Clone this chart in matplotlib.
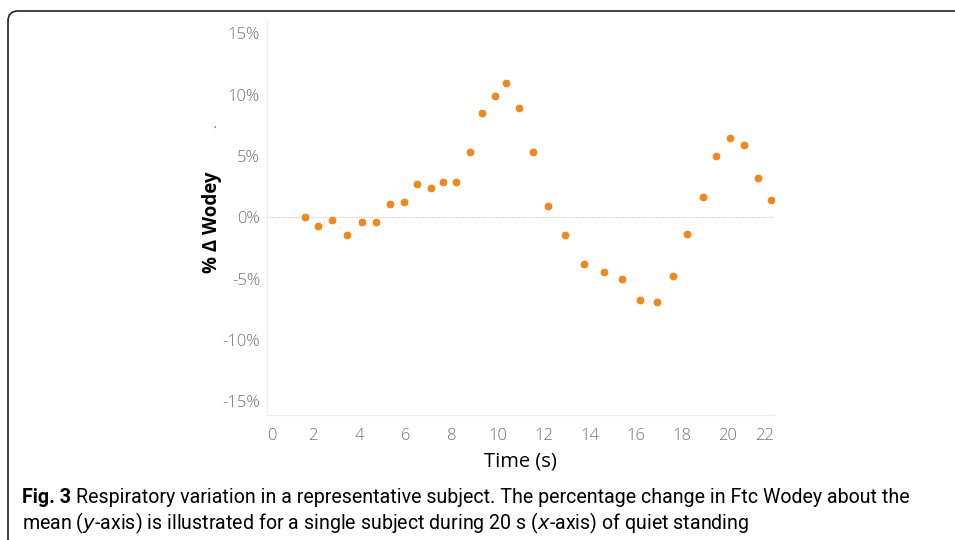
import numpy as np
import matplotlib
matplotlib.use('Agg')
import matplotlib.pyplot as plt
import matplotlib.ticker as ticker
from matplotlib.patches import PathPatch
from matplotlib.path import Path

DPI = 100
WIDTH_PX = 955
HEIGHT_PX = 540

# 数据：时间 (s) 与 % 变化
time_s = [1.63, 2.23, 2.83, 3.46, 4.11, 4.73, 5.34, 5.93, 6.51, 7.10, 7.64,
          8.21, 8.79, 9.33, 9.88, 10.36, 10.95, 11.55, 12.19, 12.94, 13.75,
          14.63, 15.42, 16.17, 16.92, 17.61, 18.24, 18.90, 19.48, 20.09,
          20.68, 21.29, 21.88]
pct_change = [0.0, -0.68, -0.25, -1.47, -0.41, -0.35, 1.12, 1.22, 2.69, 2.42,
              2.88, 2.88, 5.30, 8.51, 9.89, 10.95, 8.92, 5.30, 0.90, -1.47,
              -3.81, -4.49, -5.06, -6.74, -6.91, -4.79, -1.36, 1.63, 5.00,
              6.47, 5.90, 3.21, 1.39]

x_ticks = list(range(0, 23, 2))
y_ticks = [-15, -10, -5, 0, 5, 10, 15]

caption_bold = 'Fig. 3'
caption_line1 = ('Respiratory variation in a representative subject. The '
                 'percentage change in Ftc Wodey about the')
caption_line2 = ('mean ($\\it{y}$-axis) is illustrated for a single subject '
                 'during 20 s ($\\it{x}$-axis) of quiet standing')

ORANGE = '#F0891C'
TICK_GREY = '#727272'
FONT = 'Open Sans'

fig = plt.figure(figsize=(WIDTH_PX / DPI, HEIGHT_PX / DPI), dpi=DPI)

# ── 外框（圆角，只露出左、上两边）──
fx, ftop, r = 0.08, (HEIGHT_PX - 11) / DPI, 0.1
frame_path = Path([(fx, -0.2), (fx, ftop - r), (fx, ftop), (fx + r, ftop),
                   (12.0, ftop)],
                  [Path.MOVETO, Path.LINETO, Path.CURVE3, Path.CURVE3,
                   Path.LINETO])
fig.patches.append(PathPatch(frame_path, transform=fig.dpi_scale_trans,
                             fill=False, edgecolor='#222222', linewidth=1.2))

# ── 坐标轴 ──
L, R, T, B = 267, 774, 21, 415
ax = fig.add_axes([L / WIDTH_PX, 1 - B / HEIGHT_PX,
                   (R - L) / WIDTH_PX, (B - T) / HEIGHT_PX])
ax.set_xlim(0, 22)
ax.set_ylim(-16.1, 16.0)

ax.axhline(0, color='#cfcfcf', linewidth=0.8, linestyle=(0, (1, 1)), zorder=1)
ax.scatter(time_s, pct_change, s=38, color=ORANGE, edgecolor='white',
           linewidth=0.5, zorder=3)

for side in ('top', 'right'):
    ax.spines[side].set_visible(False)
for side in ('left', 'bottom'):
    ax.spines[side].set_color('#ececec')
    ax.spines[side].set_linewidth(0.8)

ax.set_xticks(x_ticks)
ax.set_yticks(y_ticks)
ax.yaxis.set_major_formatter(ticker.FuncFormatter(lambda v, p: f'{v:.0f}%'))
ax.tick_params(axis='both', length=0, colors=TICK_GREY, labelsize=12)
ax.tick_params(axis='x', pad=9)
ax.tick_params(axis='y', pad=5)
for lab in ax.get_xticklabels() + ax.get_yticklabels():
    lab.set_fontfamily(FONT)
    lab.set_fontweight('light')
xl = ax.get_xticklabels()
xl[0].set_horizontalalignment('left')
xl[-1].set_horizontalalignment('right')

ax.set_xlabel('Time (s)', fontsize=14.5, fontfamily=FONT, color='black',
              labelpad=6)

fig.text(212 / WIDTH_PX, 1 - 222 / HEIGHT_PX, '% Δ Wodey', rotation=90,
         ha='center', va='center', fontsize=13.5, fontweight='bold',
         fontfamily=FONT, color='black')
fig.text(214 / WIDTH_PX, 1 - 130 / HEIGHT_PX, "'", ha='center', va='center',
         fontsize=6, color='#333333')

# ── 图注：按参考宽度（约 890 px）自动调整字号 ──
CAP_FONT = 'Roboto'
y1 = 1 - 503 / HEIGHT_PX
y2 = 1 - 529 / HEIGHT_PX
x0 = 22 / WIDTH_PX
renderer = fig.canvas.get_renderer()


def _draw_caption(size):
    tb = fig.text(x0, y1, caption_bold, fontsize=size, fontweight='bold',
                  fontfamily=CAP_FONT, va='baseline')
    bb = tb.get_window_extent(renderer)
    t1 = fig.text((bb.x1 + 0.35 * size) / WIDTH_PX, y1, caption_line1,
                  fontsize=size, fontfamily=CAP_FONT, va='baseline')
    t2 = fig.text(x0, y2, caption_line2, fontsize=size,
                  fontfamily=CAP_FONT, va='baseline')
    return [tb, t1, t2]


cap_size = 13.0
texts = _draw_caption(cap_size)
right = texts[1].get_window_extent(renderer).x1
for t in texts:
    t.remove()
cap_size *= (912 - 22) / (right - 22)
_draw_caption(cap_size)

fig.savefig('out.png', dpi=DPI)
